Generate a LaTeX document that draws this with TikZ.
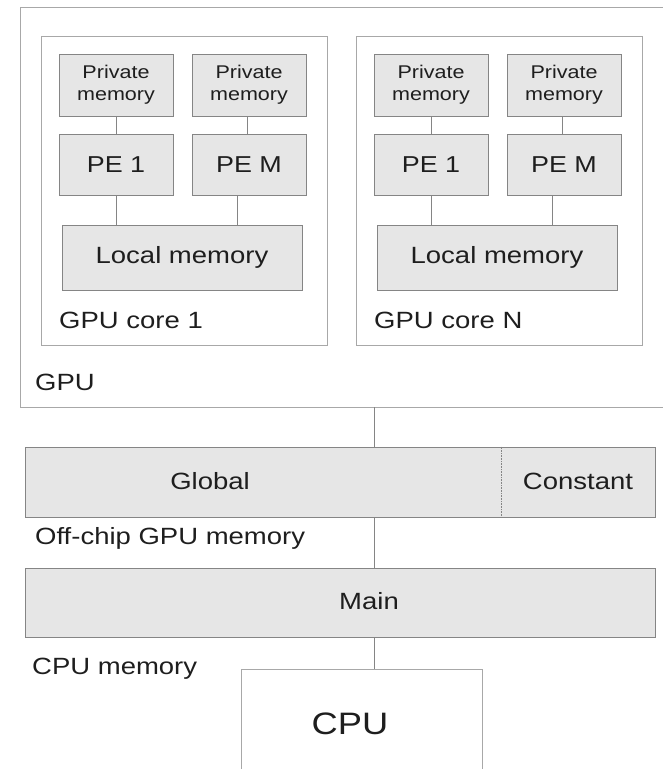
\documentclass[tikz,border=0pt]{standalone}
\usepackage{fontspec}
\setmainfont{Liberation Sans}[FakeStretch=1.17]
\usetikzlibrary{calc}
\definecolor{boxfill}{HTML}{E6E6E6}
\definecolor{boxline}{HTML}{858585}
\definecolor{frameline}{HTML}{A8A8A8}
\definecolor{txt}{HTML}{1E1E1E}
\tikzstyle{membox}=[rectangle,fill=boxfill,draw=boxline,line width=0.9pt,inner sep=0pt,text=txt]
\tikzstyle{pebox}=[membox,minimum width=114pt,minimum height=61pt,font=\fontsize{23}{27}\selectfont]
\tikzstyle{privbox}=[membox,minimum width=114pt,minimum height=62pt,align=center,font=\fontsize{18.4}{22}\selectfont]
\tikzstyle{framebox}=[rectangle,draw=frameline,line width=0.9pt,inner sep=0pt]
\tikzstyle{tag}=[anchor=base west,inner sep=0pt,text=txt,font=\fontsize{23.5}{28}\selectfont]
\tikzstyle{link}=[draw=boxline,line width=0.9pt]

\begin{document}
\begin{tikzpicture}[x=1pt,y=-1pt]

\useasboundingbox (0,0) rectangle (662,769);

% GPU
\node[framebox,minimum width=644pt,minimum height=400pt] (gpu) at (342,207) {};
\node[tag] (gpulbl) at (35,390) {GPU};

% cores
\foreach \cx/\k in {184/1, 499/N} {
    \node[framebox,minimum width=286pt,minimum height=309pt] (core\k) at (\cx,190.5) {};
    \node[privbox] (pmA\k) at ({\cx-68},85) {Private\\memory};
    \node[privbox] (pmB\k) at ({\cx+65},85) {Private\\memory};
    \node[pebox] (peA\k) at ({\cx-68},164.5) {PE 1};
    \node[pebox] (peB\k) at ({\cx+65},164.5) {PE M};
    \node[membox,minimum width=240pt,minimum height=65pt,font=\fontsize{23.5}{28}\selectfont] (loc\k) at ({\cx-2},257.5) {Local memory};
    \node[tag] (corelbl\k) at ({\cx-125},328) {GPU core \k};

    \draw[link] (pmA\k) -- (peA\k);
    \draw[link] ([xshift=-2pt]pmB\k.south) -- ([xshift=-2pt]peB\k.north);
    \draw[link] (peA\k) -- (peA\k |- loc\k.north);
    \draw[link] ([xshift=-12pt]peB\k.south) -- ([xshift=-12pt]peB\k.south |- loc\k.north);
}

% memories
\coordinate (bus) at (374,0);
\coordinate (split) at (501,0);

\node[membox,minimum width=630pt,minimum height=70pt] (glob) at (340,482) {};
\node[tag,anchor=base] (globtxt) at (210,489) {Global};
\node[tag,anchor=base] (consttxt) at (578,489) {Constant};
\draw[draw=boxline,line width=0.6pt,densely dotted] (glob.north -| split) -- (glob.south -| split);
\node[tag] (offchip) at (35,544) {Off-chip GPU memory};

\node[membox,minimum width=630pt,minimum height=69pt] (mainmem) at (340,602.5) {};
\node[tag,anchor=base] (maintxt) at (369,609) {Main};
\node[tag] (cpumem) at (32,674) {CPU memory};

% CPU
\node[framebox,minimum width=241pt,minimum height=140pt] (cpu) at (361.5,739) {};
\node[tag,anchor=base,font=\fontsize{31}{36}\selectfont] (cputxt) at (350,734) {CPU};

\draw[link] (gpu.south -| bus) -- (glob.north -| bus);
\draw[link] (glob.south -| bus) -- (mainmem.north -| bus);
\draw[link] (mainmem.south -| bus) -- (cpu.north -| bus);

\end{tikzpicture}
\end{document}
